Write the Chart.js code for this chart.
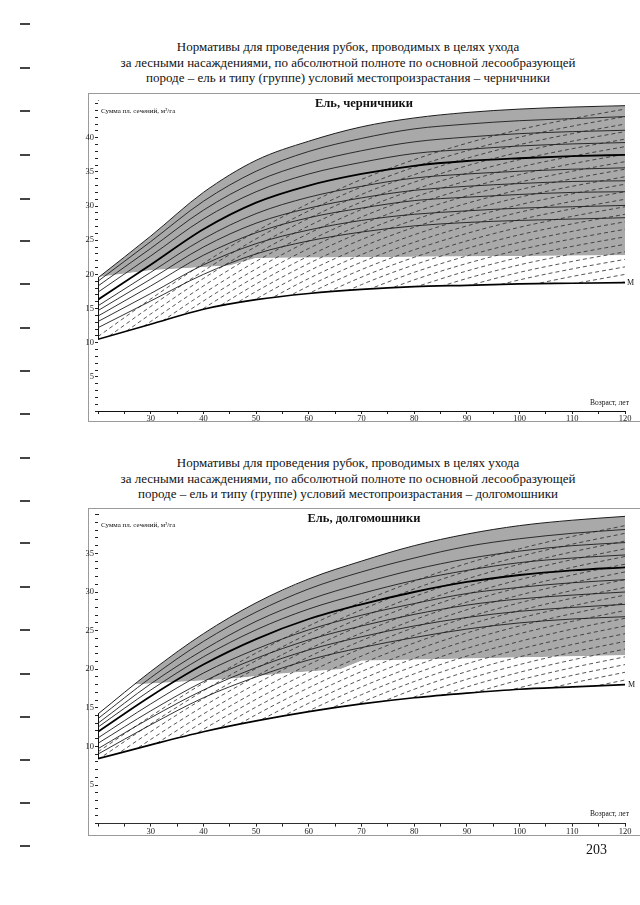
<!DOCTYPE html>
<html><head><meta charset="utf-8">
<script src="https://cdn.jsdelivr.net/npm/chart.js@4.4.1/dist/chart.umd.min.js"></script>
<style>
body{margin:0;width:640px;height:905px;overflow:hidden;background:#fff;position:relative;font-family:'Liberation Serif','Times New Roman',serif;color:#111}
.abs{position:absolute}
.ptitle{left:48px;width:600px;text-align:center;font-size:13px;line-height:15.5px;white-space:nowrap}
.frame{border:1px solid #9a9a9a;box-sizing:border-box}
.dash{left:20px;width:10px;height:1.5px;background:#444}
.ctitle{font-weight:bold;font-size:12.5px;line-height:14px;left:264px;width:200px;text-align:center;white-space:nowrap}
.cap{font-size:7px;line-height:10px;white-space:nowrap}
</style></head><body>
<div class="abs ptitle" style="top:39px">Нормативы для проведения рубок, проводимых в целях ухода<br>за лесными насаждениями, по абсолютной полноте по основной лесообразующей<br>породе – ель и типу (группе) условий местопроизрастания – черничники</div>
<div class="abs ptitle" style="top:455px">Нормативы для проведения рубок, проводимых в целях ухода<br>за лесными насаждениями, по абсолютной полноте по основной лесообразующей<br>породе – ель и типу (группе) условий местопроизрастания – долгомошники</div>

<div class="abs frame" style="left:88px;top:93px;width:570px;height:329px"></div>
<div class="abs frame" style="left:88px;top:508px;width:570px;height:328px"></div>

<canvas id="c1" class="abs" width="562" height="332" style="left:78px;top:93px"></canvas>
<canvas id="c2" class="abs" width="562" height="331" style="left:78px;top:508px"></canvas>

<div class="abs ctitle" style="top:96px">Ель, черничники</div>
<div class="abs cap" style="left:101px;top:106px">Сумма пл. сечений, м²/га</div>
<div class="abs cap" style="left:590px;top:398px;font-size:7.5px">Возраст, лет</div>
<div class="abs cap" style="left:627px;top:278px;font-size:8px">М</div>

<div class="abs ctitle" style="top:511px">Ель, долгомошники</div>
<div class="abs cap" style="left:101px;top:520px">Сумма пл. сечений, м²/га</div>
<div class="abs cap" style="left:590px;top:809px;font-size:7.5px">Возраст, лет</div>
<div class="abs cap" style="left:628px;top:680px;font-size:8px">М</div>

<div class="abs" style="left:586px;top:842px;font-size:14px">203</div>

<script>
// ---------- shared axis data ----------
const ages = [20,30,40,50,60,70,80,90,100,110,120];
const xTickValues = [20,25,30,35,40,45,50,55,60,65,70,75,80,85,90,95,100,105,110,115,120];
const xLabelled = [30,40,50,60,70,80,90,100,110,120];
const topYLabelled = [5,10,15,20,25,30,35,40];
const botYLabelled = [5,10,15,20,25,30,35];
const marginMarks = [23,67,110,154,198,240,283,327,370,413,457,500,542,586,629,673,716,759,802,845];

// ---------- chart 1: черничники ----------
const topUpper = [19.5,25.6,32.0,36.7,39.5,41.6,42.9,43.7,44.2,44.5,44.7];
const topZoneX = [20,30,45,50,120];
const topZoneY = [19.6,20.6,21.3,22.4,22.8];
const topThick = [16.3,21.4,26.6,30.5,33.0,34.7,35.9,36.6,37.0,37.3,37.5];
const topMin = [10.5,12.7,14.9,16.3,17.2,17.8,18.2,18.4,18.6,18.7,18.8];
const topThin = [
 [19.0,24.8,30.7,35.1,38.0,39.9,41.3,42.0,42.5,42.8,43.1],
 [18.3,23.8,29.4,33.6,36.3,38.1,39.4,40.1,40.6,40.9,41.1],
 [17.4,22.7,28.1,32.1,34.7,36.4,37.7,38.3,38.8,39.1,39.3],
 [15.4,20.3,25.2,28.9,31.3,32.9,34.1,34.7,35.1,35.4,35.6],
 [14.7,19.3,24.0,27.5,29.7,31.2,32.3,32.9,33.3,33.6,33.7],
 [13.9,18.3,22.8,26.1,28.3,29.7,30.8,31.3,31.7,32.0,32.1],
 [13.1,17.2,21.4,24.5,26.5,27.9,28.8,29.3,29.7,29.9,30.1],
 [12.2,16.1,20.0,23.0,24.9,26.2,27.1,27.6,27.9,28.1,28.3]
];
const _ = null;
const topDashed = [
 [10.9,16.4,21.6,26.3,30.4,33.9,36.8,39.2,41.2,42.8,44.2],
 [9.8,15.3,20.5,25.2,29.3,32.8,35.7,38.1,40.1,41.7,43.1],
 [8.7,14.2,19.4,24.1,28.2,31.7,34.6,37.0,39.0,40.6,42.0],
 [7.6,13.1,18.3,23.0,27.1,30.6,33.5,35.9,37.9,39.5,40.9],
 [_,12.0,17.2,21.9,26.0,29.5,32.4,34.8,36.8,38.4,39.8],
 [_,10.9,16.1,20.8,24.9,28.4,31.3,33.7,35.7,37.3,38.7],
 [_,9.8,15.0,19.7,23.8,27.3,30.2,32.6,34.6,36.2,37.6],
 [_,_,13.9,18.6,22.7,26.2,29.1,31.5,33.5,35.1,36.5],
 [_,_,12.8,17.5,21.6,25.1,28.0,30.4,32.4,34.0,35.4],
 [_,_,11.7,16.4,20.5,24.0,26.9,29.3,31.3,32.9,34.3],
 [_,_,_,15.3,19.4,22.9,25.8,28.2,30.2,31.8,33.2],
 [_,_,_,14.2,18.3,21.8,24.7,27.1,29.1,30.7,32.1],
 [_,_,_,13.1,17.2,20.7,23.6,26.0,28.0,29.6,31.0],
 [_,_,_,_,16.1,19.6,22.5,24.9,26.9,28.5,29.9],
 [_,_,_,_,15.0,18.5,21.4,23.8,25.8,27.4,28.8],
 [_,_,_,_,_,17.4,20.3,22.7,24.7,26.3,27.7],
 [_,_,_,_,_,16.3,19.2,21.6,23.6,25.2,26.6],
 [_,_,_,_,_,_,18.1,20.5,22.5,24.1,25.5],
 [_,_,_,_,_,_,17.0,19.4,21.4,23.0,24.4],
 [_,_,_,_,_,_,_,18.3,20.3,21.9,23.3],
 [_,_,_,_,_,_,_,17.2,19.2,20.8,22.2],
 [_,_,_,_,_,_,_,_,18.1,19.7,21.1],
 [_,_,_,_,_,_,_,_,_,18.6,20.0],
 [_,_,_,_,_,_,_,_,_,17.5,18.9]
];

// ---------- chart 2: долгомошники ----------
const botUpper = [14.2,19.7,24.6,28.6,31.7,34.0,36.0,37.5,38.6,39.3,39.8];
const botZoneX = [20,26,44,56,66,70,120];
const botZoneY = [17.9,18.0,18.7,19.5,20.0,21.1,21.8];
const botThick = [11.9,16.5,20.6,23.9,26.5,28.4,30.0,31.3,32.2,32.8,33.2];
const botMin = [8.4,10.2,11.9,13.3,14.5,15.5,16.3,16.9,17.4,17.7,18.0];
const botThin = [
 [13.6,18.9,23.6,27.4,30.4,32.6,34.4,35.9,36.9,37.6,38.1],
 [13.0,18.1,22.5,26.2,29.0,31.1,32.9,34.3,35.3,36.0,36.4],
 [12.5,17.3,21.6,25.1,27.8,29.8,31.5,32.8,33.8,34.4,34.8],
 [11.1,15.5,19.5,22.6,25.1,27.0,28.5,29.8,30.6,31.2,31.6],
 [10.4,14.6,18.4,21.4,23.8,25.6,27.1,28.3,29.1,29.6,30.0],
 [9.7,13.7,17.3,20.2,22.5,24.2,25.6,26.7,27.5,28.0,28.4],
 [9.0,12.8,16.3,19.0,21.2,22.8,24.1,25.2,26.0,26.5,26.8]
];
const botDashed = [
 [9.3,13.9,18.2,22.1,25.6,28.7,31.4,33.7,35.6,37.2,38.6],
 [8.3,12.9,17.2,21.1,24.6,27.7,30.4,32.7,34.6,36.2,37.6],
 [7.3,11.9,16.2,20.1,23.6,26.7,29.4,31.7,33.6,35.2,36.6],
 [6.3,10.9,15.2,19.1,22.6,25.7,28.4,30.7,32.6,34.2,35.6],
 [_,9.9,14.2,18.1,21.6,24.7,27.4,29.7,31.6,33.2,34.6],
 [_,8.9,13.2,17.1,20.6,23.7,26.4,28.7,30.6,32.2,33.6],
 [_,7.9,12.2,16.1,19.6,22.7,25.4,27.7,29.6,31.2,32.6],
 [_,_,11.2,15.1,18.6,21.7,24.4,26.7,28.6,30.2,31.6],
 [_,_,10.2,14.1,17.6,20.7,23.4,25.7,27.6,29.2,30.6],
 [_,_,_,13.1,16.6,19.7,22.4,24.7,26.6,28.2,29.6],
 [_,_,_,12.1,15.6,18.7,21.4,23.7,25.6,27.2,28.6],
 [_,_,_,11.1,14.6,17.7,20.4,22.7,24.6,26.2,27.6],
 [_,_,_,_,13.6,16.7,19.4,21.7,23.6,25.2,26.6],
 [_,_,_,_,12.6,15.7,18.4,20.7,22.6,24.2,25.6],
 [_,_,_,_,_,14.7,17.4,19.7,21.6,23.2,24.6],
 [_,_,_,_,_,13.7,16.4,18.7,20.6,22.2,23.6],
 [_,_,_,_,_,_,15.4,17.7,19.6,21.2,22.6],
 [_,_,_,_,_,_,_,16.7,18.6,20.2,21.6],
 [_,_,_,_,_,_,_,15.7,17.6,19.2,20.6],
 [_,_,_,_,_,_,_,_,16.6,18.2,19.6],
 [_,_,_,_,_,_,_,_,_,17.2,18.6]
];

// ---------- page decoration ----------
marginMarks.forEach(y => {
  const d = document.createElement('div');
  d.className = 'abs dash';
  d.style.top = y + 'px';
  document.body.appendChild(d);
});

// ---------- builders ----------
const GREY = '#a9a9a9';
const CLEAR = 'rgba(0,0,0,0)';
function pts(arr){ return ages.map((a,i) => arr[i] == null ? null : {x:a, y:arr[i]}).filter(Boolean); }
function xy(xs, ys){ return xs.map((x,i) => ({x:x, y:ys[i]})); }

function buildDatasets(upper, zoneX, zoneY, thin, thick, minc, dashed){
  const ds = [];
  ds.push({data:pts(upper), borderWidth:0, borderColor:CLEAR, order:100,
           fill:{target:'+1', above:GREY, below:CLEAR}});
  ds.push({data:xy(zoneX, zoneY), borderWidth:0, borderColor:CLEAR, order:99, fill:false,
           tension:0, cubicInterpolationMode:'default'});
  dashed.forEach(d => ds.push({data:pts(d), borderColor:'#2b2b2b', borderWidth:0.8,
           borderDash:[4,3], order:50, fill:false}));
  ds.push({data:pts(upper), borderWidth:0, borderColor:CLEAR, order:10, fill:'end', backgroundColor:'#fff'});
  ds.push({data:pts(minc), borderWidth:0, borderColor:CLEAR, order:10, fill:'start', backgroundColor:'#fff'});
  thin.forEach(t => ds.push({data:pts(t), borderColor:'#1c1c1c', borderWidth:0.9, order:5, fill:false}));
  ds.push({data:pts(upper), borderColor:'#1c1c1c', borderWidth:1, order:4, fill:false});
  ds.push({data:pts(thick), borderColor:'#000', borderWidth:1.8, order:1, fill:false});
  ds.push({data:pts(minc), borderColor:'#000', borderWidth:1.7, order:1, fill:false});
  return ds;
}

function makeChart(id, datasets, yMax, yLabelled, padTop, xHeight){
  const yTickValues = Array.from({length:Math.floor(yMax)+1}, (v,i) => i);
  const tickFont = {family:'Liberation Serif', size:8.5};
  const grid = {drawOnChartArea:false, drawTicks:true, tickLength:3, tickColor:'#222', color:'#222'};
  return new Chart(document.getElementById(id), {
    type:'line',
    data:{datasets:datasets},
    options:{
      responsive:false, animation:false, events:[],
      layout:{padding:{top:padTop, right:15, bottom:0, left:0}},
      elements:{point:{radius:0, hoverRadius:0}, line:{cubicInterpolationMode:'monotone'}},
      plugins:{legend:{display:false}, tooltip:{enabled:false}, title:{display:false}},
      scales:{
        x:{type:'linear', min:20, max:120, z:1,
           afterBuildTicks:s => { s.ticks = xTickValues.map(v => ({value:v})); },
           afterFit:s => { s.height = xHeight; },
           ticks:{autoSkip:false, maxRotation:0, minRotation:0, padding:0, color:'#222', font:tickFont,
                  callback:v => xLabelled.includes(v) ? String(v) : ''},
           grid:grid, border:{display:true, color:'#111', width:1}},
        y:{type:'linear', min:0, max:yMax, z:1,
           afterBuildTicks:s => { s.ticks = yTickValues.map(v => ({value:v})); },
           afterFit:s => { s.width = 20; },
           ticks:{autoSkip:false, padding:1, color:'#222', font:tickFont,
                  callback:v => yLabelled.includes(v) ? String(v) : ''},
           grid:grid, border:{display:true, color:'#111', width:1}}
      }
    }
  });
}

makeChart('c1', buildDatasets(topUpper, topZoneX, topZoneY, topThin, topThick, topMin, topDashed),
          45.5, topYLabelled, 7.2, 14);
makeChart('c2', buildDatasets(botUpper, botZoneX, botZoneY, botThin, botThick, botMin, botDashed),
          40, botYLabelled, 6.8, 15.4);
</script>
</body></html>
